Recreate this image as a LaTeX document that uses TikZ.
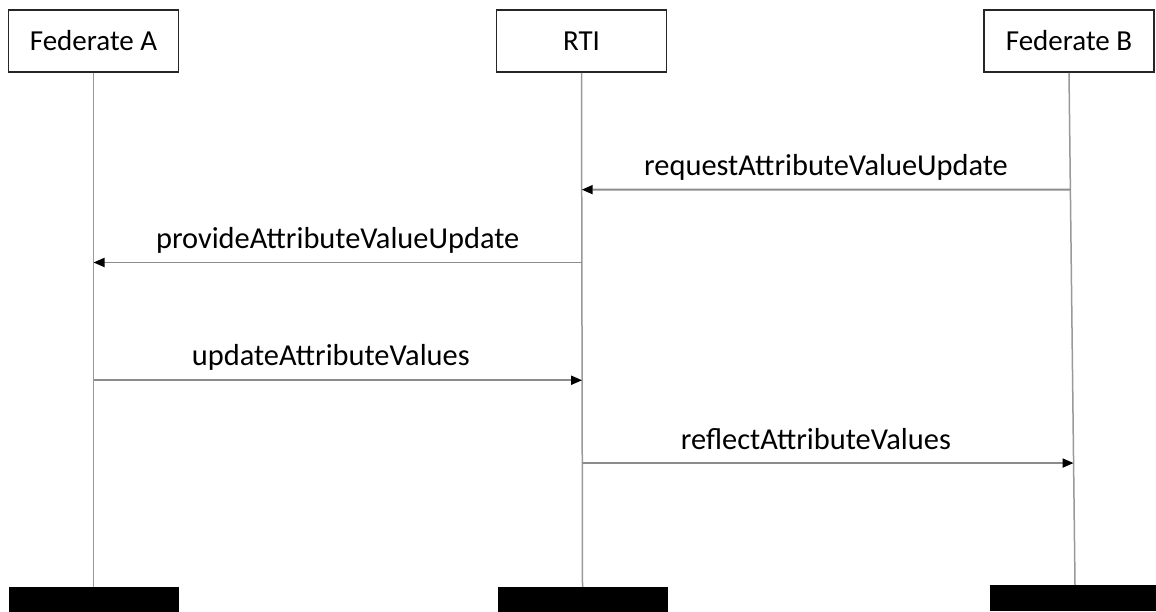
\documentclass[tikz,border=0pt]{standalone}
\usepackage{fontspec}
\setmainfont{Carlito}
\usetikzlibrary{calc,arrows.meta}
\tikzset{
  objbox/.style={draw=black!85, line width=1.8pt, fill=white, minimum width=170pt, minimum height=62pt, inner sep=0pt, font=\fontsize{29}{34}\selectfont},
  endbar/.style={fill=black, draw=none, minimum width=170pt, minimum height=26pt, inner sep=0pt},
  lifeline/.style={draw=black!40, line width=1.5pt},
  msg/.style={draw=black!45, line width=1.8pt, -{Triangle[length=11pt,width=9pt,color=black]}},
  msglabel/.style={font=\fontsize{30.4}{36}\selectfont, anchor=base, inner sep=0pt}
}
\begin{document}
\begin{tikzpicture}[x=1pt,y=-1pt]
\useasboundingbox (0,0) rectangle (1156,612);
\fill[white] (0,0) rectangle (1156,612);
% headers
\node[objbox] (A) at (93.5,41) {Federate A};
\node[objbox] (R) at (581.5,41) {RTI};
\node[objbox] (B) at (1069,41) {Federate B};
% end bars
\node[endbar] (Ae) at (93.5,600) {};
\node[endbar] (Re) at (582.5,600) {};
\node[endbar] (Be) at (1075,598) {};
% lifelines
\draw[lifeline] (A.south) -- (Ae.north);
\draw[lifeline] (R.south) -- (Re.north);
\draw[lifeline] (B.south) -- (Be.north);
% points on lifelines
\coordinate (a2) at ($(A.south)!{(262-72)/(587-72)}!(Ae.north)$);
\coordinate (a3) at ($(A.south)!{(380-72)/(587-72)}!(Ae.north)$);
\coordinate (r1) at ($(R.south)!{(189-72)/(587-72)}!(Re.north)$);
\coordinate (r2) at ($(R.south)!{(262-72)/(587-72)}!(Re.north)$);
\coordinate (r3) at ($(R.south)!{(380-72)/(587-72)}!(Re.north)$);
\coordinate (r4) at ($(R.south)!{(463-72)/(587-72)}!(Re.north)$);
\coordinate (b1) at ($(B.south)!{(189-72)/(585-72)}!(Be.north)$);
\coordinate (b4) at ($(B.south)!{(463-72)/(585-72)}!(Be.north)$);
% messages
\draw[msg] (b1) -- node[msglabel, yshift=14pt] (l1) {requestAttributeValueUpdate} (r1);
\draw[msg] (r2) -- node[msglabel, yshift=14pt] (l2) {provideAttributeValueUpdate} (a2);
\draw[msg] (a3) -- node[msglabel, yshift=15pt, xshift=-7pt] (l3) {updateAttributeValues} (r3);
\draw[msg] (r4) -- node[msglabel, yshift=14pt, xshift=-12pt] (l4) {reflectAttributeValues} (b4);
\end{tikzpicture}
\end{document}
